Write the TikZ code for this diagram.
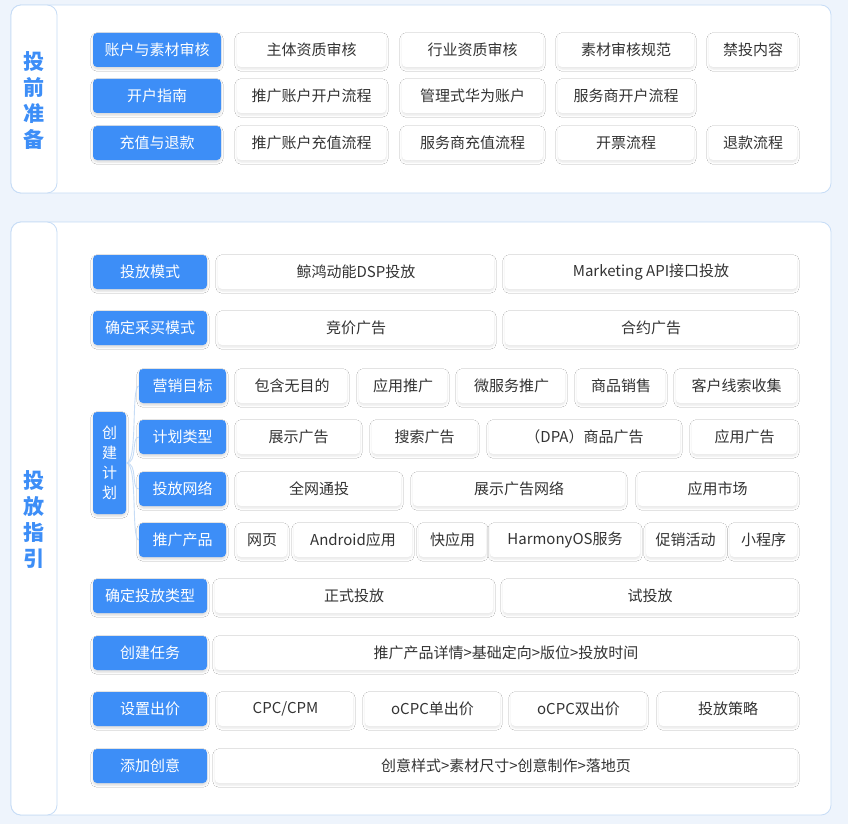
\documentclass[tikz,border=0pt]{standalone}
\usepackage{fontspec}
\setmainfont{Noto Sans CJK SC}
\usetikzlibrary{shadows.blur}
\definecolor{bg}{HTML}{EEF4FC}
\definecolor{bl}{HTML}{3D8EF7}
\definecolor{bd}{HTML}{C6DCF6}
\definecolor{tx}{HTML}{333333}
\tikzset{
 base/.style={rounded corners=4pt,inner sep=0pt,font=\fontsize{15}{17}\selectfont,minimum height=34pt},
 blu/.style={base,fill=bl,text=white,blur shadow={shadow blur steps=5,shadow xshift=0pt,shadow yshift=-2pt,shadow opacity=15}},
 wht/.style={base,fill=white,text=tx,blur shadow={shadow blur steps=5,shadow xshift=0pt,shadow yshift=-2pt,shadow opacity=10}},
 panel/.style={draw=bd,fill=white,rounded corners=10pt,line width=0.8pt},
 side/.style={text=bl,font=\fontsize{21}{26}\selectfont\bfseries,align=center},
 conn/.style={draw=bd,line width=0.9pt}
}
\newcommand\bx[6]{\node[#6,minimum width=#3-#2] (#1) at ({(#2+#3)/2},#4) {#5};}
\begin{document}
\begin{tikzpicture}[x=1pt,y=-1pt]
\fill[bg] (0,0) rectangle (848,824);
\useasboundingbox (0,0) rectangle (848,824);
% panel 1
\draw[panel] (11,5) rectangle (831,193);
\draw[panel] (11,5) rectangle (57,193);
\node[side] (s1) at (34,101) {投\\前\\准\\备};
\bx{a1}{93}{221}{50}{账户与素材审核}{blu}
\bx{a2}{93}{221}{96}{开户指南}{blu}
\bx{a3}{93}{221}{143}{充值与退款}{blu}
\bx{a11}{237}{386}{50}{主体资质审核}{wht}
\bx{a12}{402}{543}{50}{行业资质审核}{wht}
\bx{a13}{558}{694}{50}{素材审核规范}{wht}
\bx{a14}{709}{797}{50}{禁投内容}{wht}
\bx{a21}{237}{386}{96}{推广账户开户流程}{wht}
\bx{a22}{402}{543}{96}{管理式华为账户}{wht}
\bx{a23}{558}{694}{96}{服务商开户流程}{wht}
\bx{a31}{237}{386}{143}{推广账户充值流程}{wht}
\bx{a32}{402}{543}{143}{服务商充值流程}{wht}
\bx{a33}{558}{694}{143}{开票流程}{wht}
\bx{a34}{709}{797}{143}{退款流程}{wht}
% panel 2
\draw[panel] (11,222) rectangle (831,815);
\draw[panel] (11,222) rectangle (57,815);
\node[side] (s2) at (34,520) {投\\放\\指\\引};
\bx{b1}{93}{207}{272}{投放模式}{blu}
\bx{b11}{218}{494}{272}{鲸鸿动能DSP投放}{wht}
\bx{b12}{505}{797}{272}{Marketing API接口投放}{wht}
\bx{b2}{93}{207}{328}{确定采买模式}{blu}
\bx{b21}{218}{494}{328}{竞价广告}{wht}
\bx{b22}{505}{797}{328}{合约广告}{wht}
\node[blu,minimum width=33pt,minimum height=102pt,align=center,font=\fontsize{15}{20}\selectfont] (cj) at (109.5,463) {创\\建\\计\\划};
\bx{c1}{139}{226}{386}{营销目标}{blu}
\bx{c2}{139}{226}{437}{计划类型}{blu}
\bx{c3}{139}{226}{489}{投放网络}{blu}
\bx{c4}{139}{226}{540}{推广产品}{blu}
\foreach \n in {c1,c2,c3,c4}{\draw[conn] (cj.east) .. controls +(12,0) and +(-8,0) .. (\n.west);}
\bx{c11}{237}{347}{386}{包含无目的}{wht}
\bx{c12}{359}{447}{386}{应用推广}{wht}
\bx{c13}{458}{565}{386}{微服务推广}{wht}
\bx{c14}{577}{665}{386}{商品销售}{wht}
\bx{c15}{676}{797}{386}{客户线索收集}{wht}
\bx{c21}{237}{360}{437}{展示广告}{wht}
\bx{c22}{372}{477}{437}{搜索广告}{wht}
\bx{c23}{489}{680}{437}{（DPA）商品广告}{wht}
\bx{c24}{692}{797}{437}{应用广告}{wht}
\bx{c31}{237}{401}{489}{全网通投}{wht}
\bx{c32}{413}{625}{489}{展示广告网络}{wht}
\bx{c33}{638}{797}{489}{应用市场}{wht}
\bx{c41}{237}{287}{540}{网页}{wht}
\bx{c42}{294}{412}{540}{Android应用}{wht}
\bx{c43}{419}{486}{540}{快应用}{wht}
\bx{c44}{490}{640}{540}{HarmonyOS服务}{wht}
\bx{c45}{646}{725}{540}{促销活动}{wht}
\bx{c46}{730}{797}{540}{小程序}{wht}
\bx{d1}{93}{207}{596}{确定投放类型}{blu}
\bx{d11}{215}{493}{596}{正式投放}{wht}
\bx{d12}{503}{797}{596}{试投放}{wht}
\bx{e1}{93}{207}{653}{创建任务}{blu}
\bx{e11}{215}{797}{653}{推广产品详情>基础定向>版位>投放时间}{wht}
\bx{f1}{93}{207}{709}{设置出价}{blu}
\bx{f11}{218}{353}{709}{CPC/CPM}{wht}
\bx{f12}{365}{500}{709}{oCPC单出价}{wht}
\bx{f13}{511}{646}{709}{oCPC双出价}{wht}
\bx{f14}{659}{797}{709}{投放策略}{wht}
\bx{g1}{93}{207}{766}{添加创意}{blu}
\bx{g11}{215}{797}{766}{创意样式>素材尺寸>创意制作>落地页}{wht}
\end{tikzpicture}
\end{document}
